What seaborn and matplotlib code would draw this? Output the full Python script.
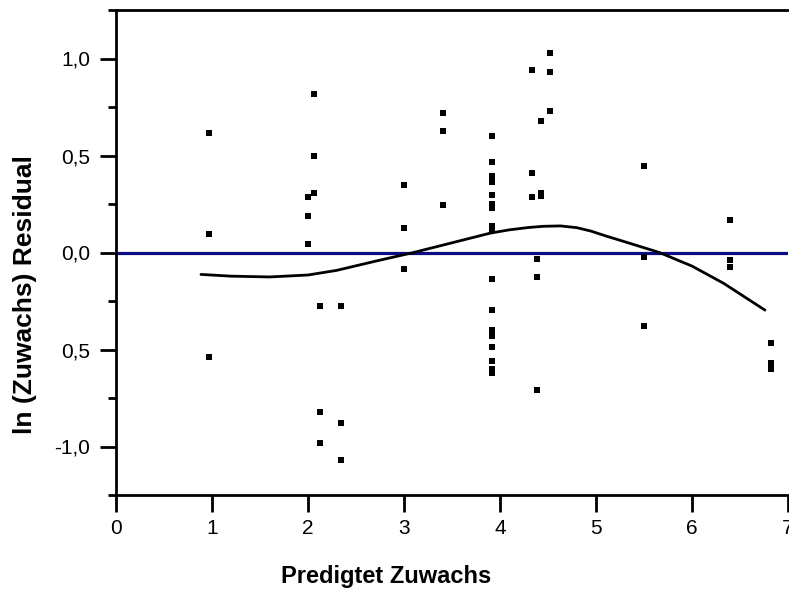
import numpy as np
import pandas as pd
import matplotlib
matplotlib.use("Agg")
import matplotlib.pyplot as plt
from matplotlib.ticker import FixedLocator
import seaborn as sns

# Predicted growth vs. residual of ln(growth)
pred_x = [0.97, 0.97, 0.97,
          2.00, 2.00, 2.00,
          2.06, 2.06, 2.06,
          2.13, 2.13, 2.13,
          2.34, 2.34, 2.34,
          3.00, 3.00, 3.00,
          3.41, 3.41, 3.41,
          3.92, 3.92, 3.92, 3.92, 3.92, 3.92, 3.92, 3.92, 3.92,
          3.92, 3.92, 3.92, 3.92, 3.92, 3.92, 3.92, 3.92,
          4.33, 4.33, 4.33,
          4.39, 4.39, 4.39,
          4.43, 4.43, 4.43,
          4.52, 4.52, 4.52,
          5.50, 5.50, 5.50,
          6.40, 6.40, 6.40,
          6.82, 6.82, 6.82]
resid_y = [0.615, 0.096, -0.538,
           0.286, 0.190, 0.045,
           0.815, 0.497, 0.307,
           -0.276, -0.823, -0.983,
           -0.276, -0.877, -1.068,
           0.349, 0.128, -0.084,
           0.719, 0.625, 0.245,
           0.603, 0.466, 0.395, 0.361, 0.298, 0.250, 0.230, 0.137, 0.115,
           -0.139, -0.295, -0.400, -0.430, -0.485, -0.560, -0.600, -0.623,
           0.943, 0.412, 0.288,
           -0.033, -0.127, -0.709,
           0.678, 0.307, 0.292,
           1.026, 0.931, 0.729,
           0.445, -0.022, -0.380,
           0.170, -0.041, -0.074,
           -0.466, -0.568, -0.600]

# Smoothed trend through the residuals
smooth_x = [0.885, 1.20, 1.60, 2.00, 2.30, 2.70, 3.10, 3.50, 3.90, 4.10,
            4.30, 4.45, 4.63, 4.80, 4.95, 5.11, 5.25, 5.40, 5.66, 6.00,
            6.33, 6.76]
smooth_y = [-0.113, -0.122, -0.126, -0.116, -0.092, -0.045, 0.000, 0.050,
            0.100, 0.117, 0.129, 0.135, 0.137, 0.128, 0.110, 0.084, 0.063,
            0.040, 0.000, -0.070, -0.159, -0.297]

y_ticks = [-1.0, -0.5, 0.0, 0.5, 1.0]
y_tick_labels = ["-1,0", "0,5", "0,0", "0,5", "1,0"]
y_minor = [-1.25, -0.75, -0.25, 0.25, 0.75, 1.25]
x_ticks = [0, 1, 2, 3, 4, 5, 6, 7]

sns.set_style("ticks")
plt.rcParams["font.family"] = ["Liberation Sans", "DejaVu Sans"]
plt.rcParams["text.color"] = "black"
plt.rcParams["axes.labelcolor"] = "black"

W, H = 789, 592
fig = plt.figure(figsize=(W / 100, H / 100), dpi=100)
ax = fig.add_axes([116 / W, 97 / H, (788 - 116) / W, (495 - 10) / H])

pts = pd.DataFrame({"pred": pred_x, "resid": resid_y})
trend = pd.DataFrame({"pred": smooth_x, "resid": smooth_y})

ax.axhline(0.0, color="#0b0b85", lw=2.3, zorder=1)
sns.lineplot(data=trend, x="pred", y="resid", color="black", lw=2.0,
             sort=False, ax=ax, zorder=2)
sns.scatterplot(data=pts, x="pred", y="resid", marker="s", s=16,
                color="black", linewidth=0, ax=ax, zorder=3)

ax.set_xlim(0, 7)
ax.set_ylim(-1.25, 1.25)
ax.xaxis.set_major_locator(FixedLocator(x_ticks))
ax.set_xticklabels([str(v) for v in x_ticks])
ax.yaxis.set_major_locator(FixedLocator(y_ticks))
ax.set_yticklabels(y_tick_labels)
ax.yaxis.set_minor_locator(FixedLocator(y_minor))

for side in ["left", "bottom", "top"]:
    ax.spines[side].set_linewidth(2.0)
    ax.spines[side].set_color("black")
ax.spines["right"].set_visible(False)

ax.tick_params(axis="x", which="major", direction="out", length=12, width=2,
               labelsize=15, pad=5, colors="black")
ax.tick_params(axis="y", which="major", direction="out", length=11.5, width=2,
               labelsize=15, pad=7, colors="black")
ax.tick_params(axis="y", which="minor", direction="out", length=6, width=2,
               colors="black")
ax.tick_params(axis="x", which="both", top=False)

ax.set_xlabel("Predigtet Zuwachs", fontsize=17, fontweight="bold",
              va="center", color="black")
ax.xaxis.set_label_coords((386 - 116) / 672, (495 - 577) / 485)
ax.set_ylabel("ln (Zuwachs) Residual", fontsize=19, fontweight="bold",
              va="center", color="black")
ax.yaxis.set_label_coords((25 - 116) / 672, (495 - 295) / 485)

fig.savefig("out.png", dpi=100)
